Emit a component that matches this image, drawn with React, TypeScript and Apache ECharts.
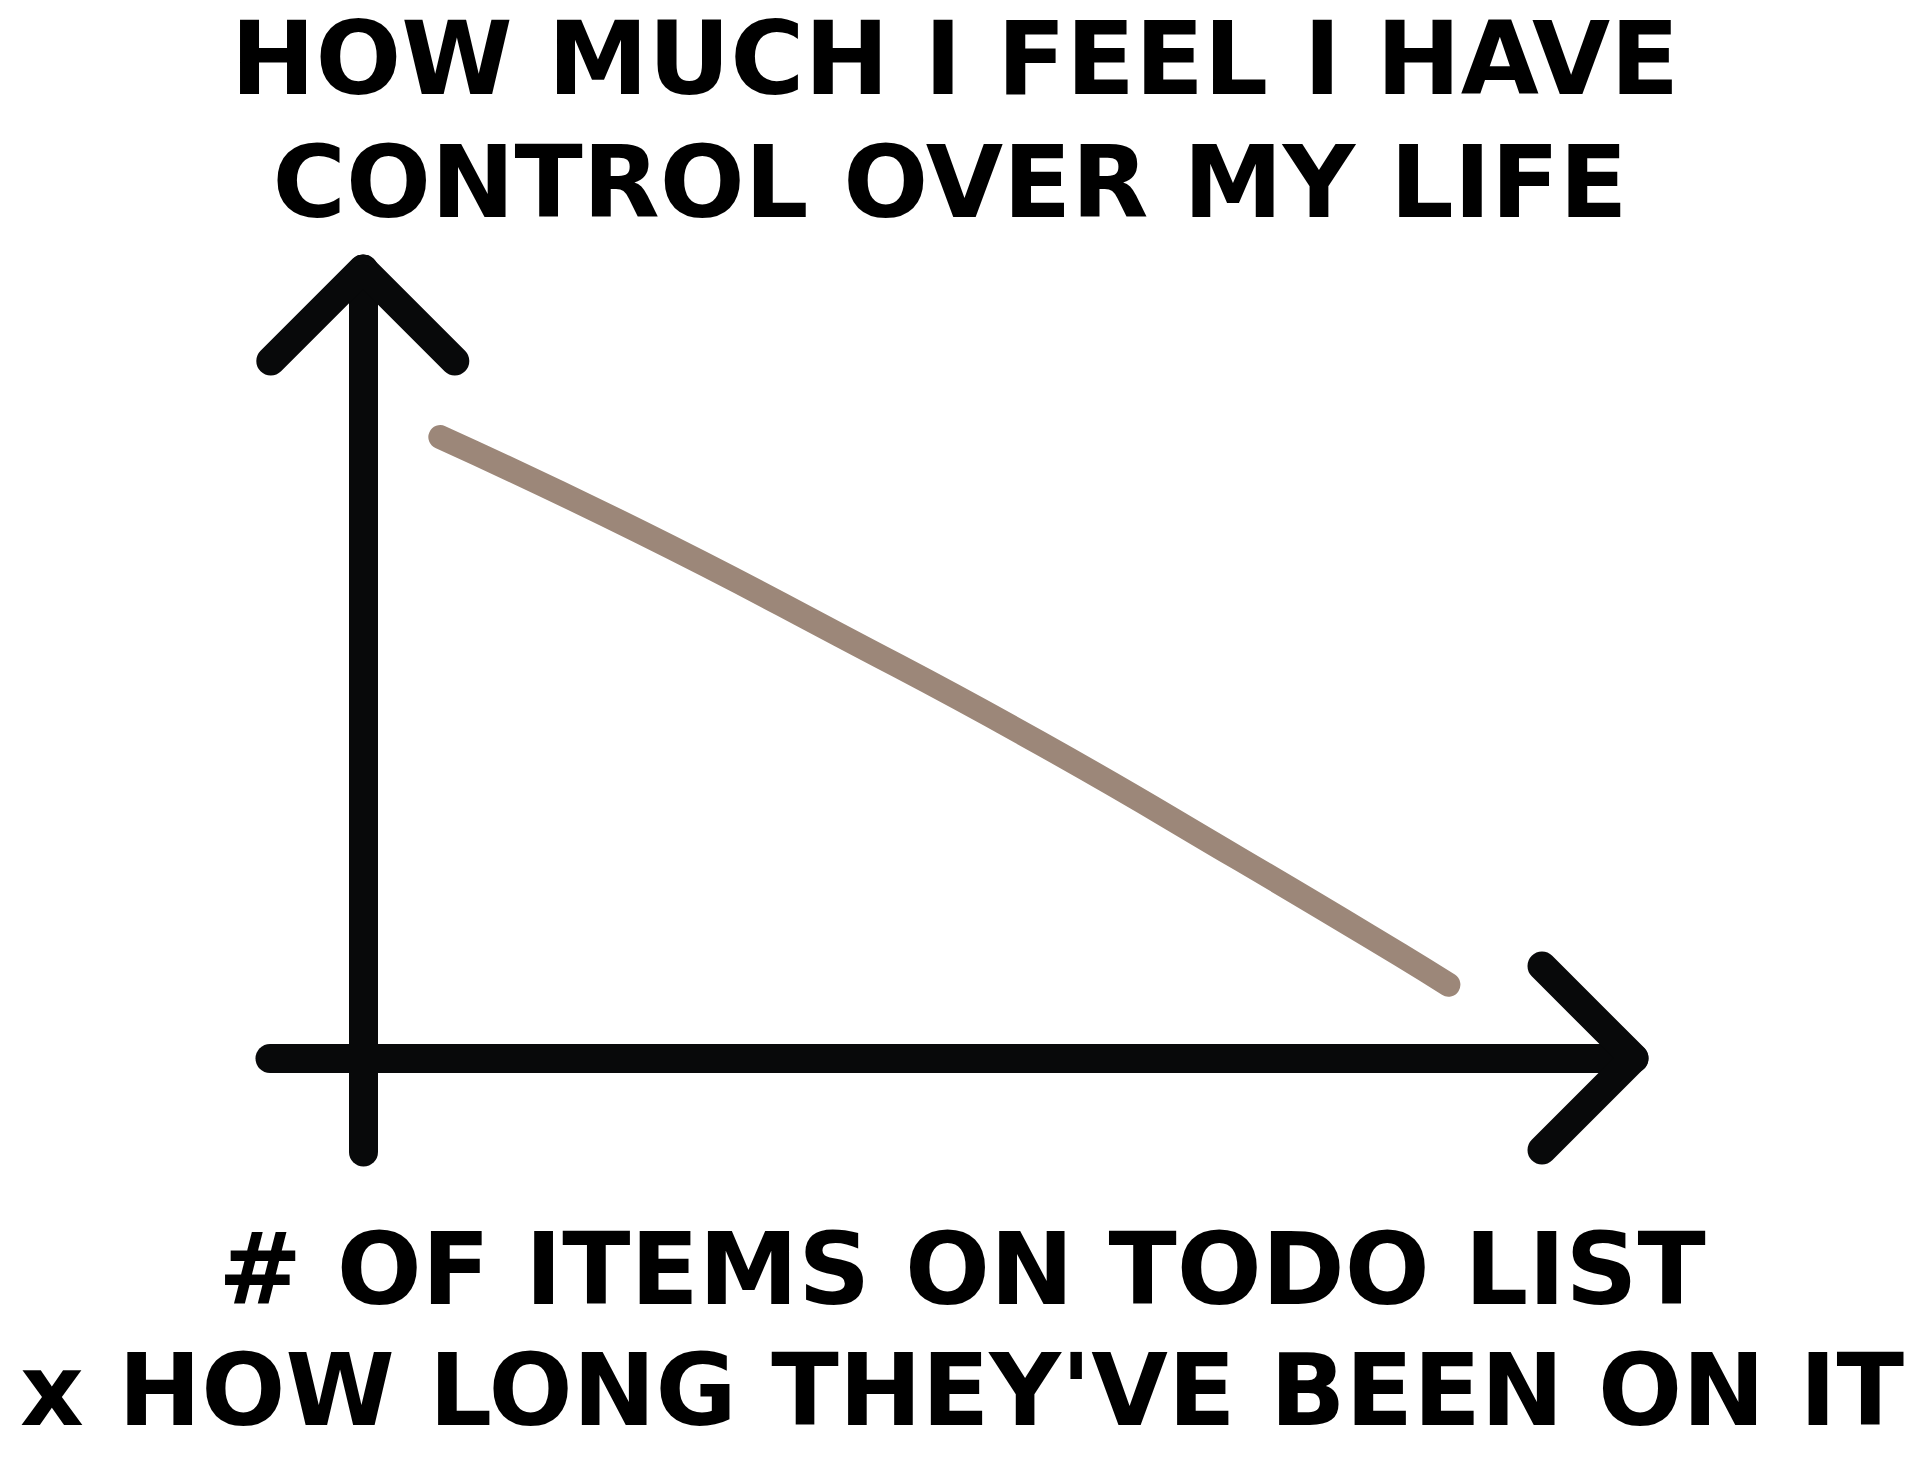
import React, { useEffect, useRef } from "react";
import * as echarts from "echarts";

// ---- data ----
const titleLines = ["HOW MUCH I FEEL I HAVE", "CONTROL OVER MY LIFE"];
const xLabelLines = ["# OF ITEMS ON TODO LIST", "x HOW LONG THEY'VE BEEN ON IT"];
const itemsTimesDuration = [6.1, 21.8, 37.5, 53.3, 69.0, 81.6, 85.4];
const feelingOfControl = [78.7, 66.7, 53.6, 39.9, 25.2, 13.1, 9.3];
const xRange = [-7.3, 100];
const yRange = [-11.9, 100];

const INK = "#08090a";
const LINE = "#9c8779";
const FONT = "'DejaVu Sans', 'Liberation Sans', sans-serif";

export default function App() {
  const ref = useRef<HTMLDivElement>(null);

  useEffect(() => {
    if (!ref.current) return;
    const chart = echarts.init(ref.current, null, { renderer: "svg" });
    const axisCommon = {
      type: "value" as const,
      axisLine: {
        show: true,
        onZero: true,
        lineStyle: { color: INK, width: 29, cap: "round" },
      },
      axisTick: { show: false },
      axisLabel: { show: false },
      splitLine: { show: false },
    };
    chart.setOption({
      animation: false,
      backgroundColor: "#ffffff",
      grid: { left: 270, top: 269, width: 1364, height: 883 },
      xAxis: { ...axisCommon, min: xRange[0], max: xRange[1] },
      yAxis: { ...axisCommon, min: yRange[0], max: yRange[1] },
      series: [
        {
          type: "line",
          data: itemsTimesDuration.map((x, i) => [x, feelingOfControl[i]]),
          smooth: 0.5,
          symbol: "none",
          lineStyle: { color: LINE, width: 24, cap: "round", join: "round" },
          z: 3,
        },
      ],
    });

    const tipY = chart.convertToPixel({ gridIndex: 0 }, [0, yRange[1]]) as number[];
    const tipX = chart.convertToPixel({ gridIndex: 0 }, [xRange[1], 0]) as number[];
    const arm = 92;
    const chevronStyle = {
      stroke: INK,
      lineWidth: 29,
      lineCap: "round",
      lineJoin: "round",
      fill: "none",
    };
    const textStyle = (text: string, size: number) => ({
      text,
      fill: "#000000",
      fontFamily: FONT,
      fontWeight: "bold",
      fontSize: size,
      align: "center",
      verticalAlign: "middle",
    });

    chart.setOption({
      graphic: [
        {
          type: "polyline",
          shape: {
            points: [
              [tipY[0] - arm, tipY[1] + arm],
              [tipY[0], tipY[1]],
              [tipY[0] + arm, tipY[1] + arm],
            ],
          },
          style: chevronStyle,
          z: 10,
        },
        {
          type: "polyline",
          shape: {
            points: [
              [tipX[0] - arm, tipX[1] - arm],
              [tipX[0], tipX[1]],
              [tipX[0] - arm, tipX[1] + arm],
            ],
          },
          style: chevronStyle,
          z: 10,
        },
        { type: "text", x: 955, y: 59, style: textStyle(titleLines[0], 101) },
        { type: "text", x: 950, y: 182, style: textStyle(titleLines[1], 100) },
        { type: "text", x: 962, y: 1269, style: textStyle(xLabelLines[0], 100) },
        { type: "text", x: 962, y: 1390, style: textStyle(xLabelLines[1], 99) },
      ],
    });

    return () => chart.dispose();
  }, []);

  return (
    <div
      ref={ref}
      style={{ position: "fixed", left: 0, top: 0, width: 1919, height: 1467 }}
    />
  );
}
